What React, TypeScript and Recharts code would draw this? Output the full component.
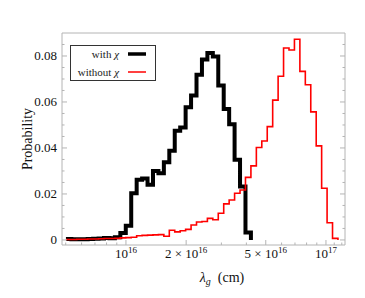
import { LineChart, Line, XAxis, YAxis, Legend } from 'recharts'

// log-spaced histogram bins, lambda_g in cm
const BIN_START = 15.7
const BIN_WIDTH = 0.0272

const withChi = [
  0.0004, 0.0003, 0.0003, 0.0003, 0.0004, 0.0005, 0.0006, 0.0008, 0.0007, 0.0012,
  0.003, 0.0062, 0.0203, 0.0262, 0.0267, 0.024, 0.03, 0.029, 0.0338, 0.0388,
  0.0475, 0.0489, 0.0577, 0.0628, 0.0718, 0.0785, 0.0813, 0.0798, 0.0672, 0.057,
  0.0503, 0.0349, 0.0232, 0.0032,
]

const withoutChi = [
  0.0002, 0.0002, 0.0003, 0.0003, 0.0004, 0.0004, 0.0005, 0.0006, 0.0006, 0.0007,
  0.0009, 0.001, 0.0012, 0.0018, 0.002, 0.0021, 0.0022, 0.0023, 0.0016, 0.0042,
  0.0035, 0.004, 0.0046, 0.0065, 0.0078, 0.008, 0.0094, 0.0088, 0.0116, 0.0157,
  0.0174, 0.0203, 0.0217, 0.0272, 0.0322, 0.0402, 0.043, 0.0493, 0.0608, 0.0712,
  0.0835, 0.0826, 0.0873, 0.0733, 0.0675, 0.0557, 0.0409, 0.0225, 0.0075, 0.0007,
]

const X_MAJOR = [1e16, 2e16, 5e16, 1e17]
const X_LABELS = [
  { base: '10', exp: '16' },
  { base: '2 × 10', exp: '16' },
  { base: '5 × 10', exp: '16' },
  { base: '10', exp: '17' },
]
const X_MINOR = [5e15, 6e15, 7e15, 8e15, 9e15, 3e16, 4e16, 6e16, 7e16, 8e16, 9e16, 1.1e17, 1.2e17]

const Y_MAJOR = [0, 0.02, 0.04, 0.06, 0.08]
const Y_LABELS = ['0', '0.02', '0.04', '0.06', '0.08']
const Y_MINOR = [0.005, 0.01, 0.015, 0.025, 0.03, 0.035, 0.045, 0.05, 0.055, 0.065, 0.07, 0.075, 0.085]

const X_DOMAIN = [4.79e15, 1.245e17]
const Y_DOMAIN = [-0.0022, 0.09]

const W = 365
const H = 298
const LEFT = 62
const RIGHT = 345
const TOP = 33
const BOTTOM = 245
const FRAME = '#b4b4b4'
const SERIF = '"Liberation Serif", "Times New Roman", serif'

function toSteps(values: number[]) {
  const pts = values.map((v, i) => ({ x: Math.pow(10, BIN_START + i * BIN_WIDTH), y: v }))
  pts.push({ x: Math.pow(10, BIN_START + values.length * BIN_WIDTH), y: 0 })
  return pts
}

const xTicks = [...X_MAJOR, ...X_MINOR].sort((a, b) => a - b)
const yTicks = [...Y_MAJOR, ...Y_MINOR].sort((a, b) => a - b)

function BottomTick(props: any) {
  const { x, payload } = props
  const i = X_MAJOR.indexOf(payload.value)
  const len = i >= 0 ? 5 : 2.5
  return (
    <g>
      <line x1={x} x2={x} y1={BOTTOM} y2={BOTTOM - len} stroke={FRAME} />
      {i >= 0 && (
        <text x={x} y={258} textAnchor="middle" fontFamily={SERIF} fontSize={13} fill="#111">
          <tspan>{X_LABELS[i].base}</tspan>
          <tspan dy={-5} fontSize={9}>{X_LABELS[i].exp}</tspan>
        </text>
      )}
    </g>
  )
}

function TopTick(props: any) {
  const { x, payload } = props
  const len = X_MAJOR.includes(payload.value) ? 5 : 2.5
  return <line x1={x} x2={x} y1={TOP} y2={TOP + len} stroke={FRAME} />
}

function LeftTick(props: any) {
  const { y, payload } = props
  const i = Y_MAJOR.indexOf(payload.value)
  const len = i >= 0 ? 5 : 2.5
  return (
    <g>
      <line x1={LEFT} x2={LEFT + len} y1={y} y2={y} stroke={FRAME} />
      {i >= 0 && (
        <text x={57} y={y + 4.5} textAnchor="end" fontFamily={SERIF} fontSize={13} fill="#111">
          {Y_LABELS[i]}
        </text>
      )}
    </g>
  )
}

function RightTick(props: any) {
  const { y, payload } = props
  const len = Y_MAJOR.includes(payload.value) ? 5 : 2.5
  return <line x1={RIGHT} x2={RIGHT - len} y1={y} y2={y} stroke={FRAME} />
}

function LegendBox() {
  return (
    <svg width={86} height={36} style={{ display: 'block' }}>
      <rect x={0.5} y={0.5} width={85} height={35} fill="#fff" stroke="#333" />
      <text x={49} y={12.5} textAnchor="end" fontFamily={SERIF} fontSize={11} fill="#222">
        with <tspan fontStyle="italic">χ</tspan>
      </text>
      <line x1={58} x2={76} y1={9} y2={9} stroke="#000" strokeWidth={3.5} />
      <text x={49} y={30.5} textAnchor="end" fontFamily={SERIF} fontSize={11} fill="#222">
        without <tspan fontStyle="italic">χ</tspan>
      </text>
      <line x1={58} x2={76} y1={27} y2={27} stroke="#f00" strokeWidth={1.5} />
    </svg>
  )
}

export default function App() {
  return (
    <div style={{ position: 'absolute', left: 0, top: 0, background: '#fff' }}>
      <LineChart width={W} height={H} margin={{ top: 0, right: 0, bottom: 0, left: 0 }}>
        <XAxis
          xAxisId="bottom"
          type="number"
          dataKey="x"
          scale="log"
          domain={X_DOMAIN}
          allowDataOverflow
          ticks={xTicks}
          interval={0}
          height={H - BOTTOM}
          stroke={FRAME}
          tickLine={false}
          tick={BottomTick}
          label={{
            content: () => (
              <text x={222} y={282} textAnchor="middle" fontFamily={SERIF} fontSize={14} fill="#111">
                <tspan fontStyle="italic">λ</tspan>
                <tspan fontStyle="italic" fontSize={10} dy={3}>g</tspan>
                <tspan dy={-3}>{'\u00a0\u00a0(cm)'}</tspan>
              </text>
            ),
          }}
        />
        <XAxis
          xAxisId="top"
          orientation="top"
          type="number"
          scale="log"
          domain={X_DOMAIN}
          allowDataOverflow
          ticks={xTicks}
          interval={0}
          height={TOP}
          stroke={FRAME}
          tickLine={false}
          tick={TopTick}
        />
        <YAxis
          yAxisId="left"
          type="number"
          domain={Y_DOMAIN}
          allowDataOverflow
          ticks={yTicks}
          interval={0}
          width={LEFT}
          stroke={FRAME}
          tickLine={false}
          tick={LeftTick}
          label={{
            content: () => (
              <text
                x={27.5}
                y={139}
                transform="rotate(-90 27.5 139)"
                textAnchor="middle"
                dominantBaseline="central"
                fontFamily={SERIF}
                fontSize={14}
                fill="#111"
              >
                Probability
              </text>
            ),
          }}
        />
        <YAxis
          yAxisId="right"
          orientation="right"
          type="number"
          domain={Y_DOMAIN}
          allowDataOverflow
          ticks={yTicks}
          interval={0}
          width={W - RIGHT}
          stroke={FRAME}
          tickLine={false}
          tick={RightTick}
        />
        <Legend
          layout="vertical"
          verticalAlign="middle"
          align="center"
          content={() => <LegendBox />}
          wrapperStyle={{ position: 'absolute', left: 70, top: 45, width: 86, height: 36 }}
        />
        <Line
          xAxisId="bottom"
          yAxisId="left"
          data={toSteps(withChi)}
          dataKey="y"
          type="stepAfter"
          stroke="#000"
          strokeWidth={4}
          strokeLinejoin="miter"
          dot={false}
          isAnimationActive={false}
        />
        <Line
          xAxisId="bottom"
          yAxisId="left"
          data={toSteps(withoutChi)}
          dataKey="y"
          type="stepAfter"
          stroke="#f00"
          strokeWidth={1.6}
          strokeLinejoin="miter"
          dot={false}
          isAnimationActive={false}
        />
      </LineChart>
    </div>
  )
}
